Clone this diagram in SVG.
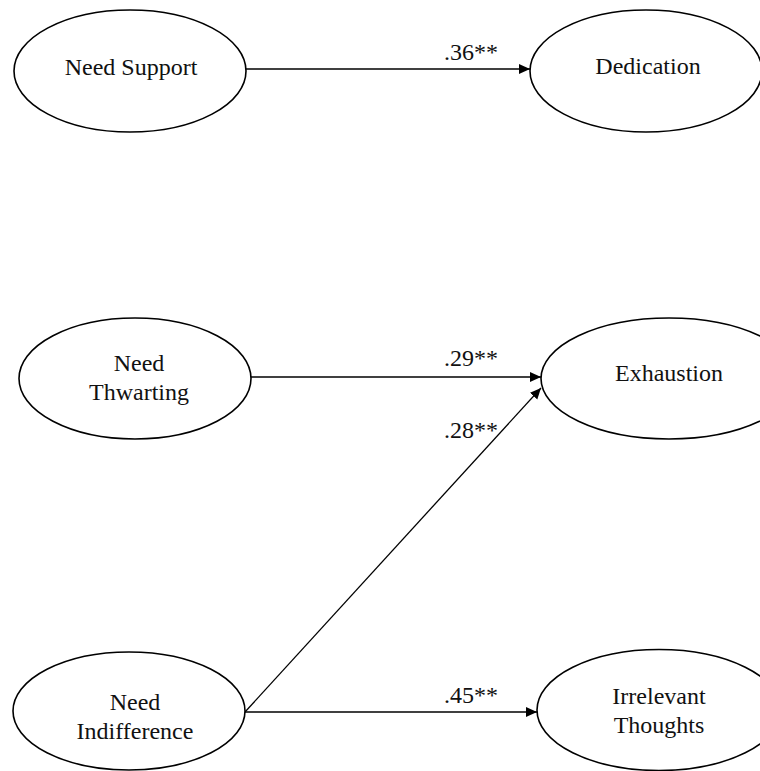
<svg xmlns="http://www.w3.org/2000/svg" width="760" height="771" viewBox="0 0 760 771">
<style>
.node ellipse{fill:#fff;stroke:#000;stroke-width:1.6}
text{font-family:"Liberation Serif","Times New Roman",serif;font-size:24px;fill:#111;text-anchor:middle}
.lbl{text-anchor:start}
.conn line{stroke:#000;stroke-width:1.3}
</style>
<defs>
<marker id="ah" markerUnits="userSpaceOnUse" markerWidth="12" markerHeight="11" refX="11" refY="5" orient="auto">
<path d="M0,0 L11,5 L0,10 z" fill="#000"/>
</marker>
</defs>
<rect width="760" height="771" fill="#fff"/>
<g class="conn">
<line x1="246" y1="69" x2="530" y2="69" marker-end="url(#ah)"/>
<line x1="251" y1="377" x2="541" y2="377" marker-end="url(#ah)"/>
<line x1="245" y1="712" x2="541" y2="388" marker-end="url(#ah)"/>
<line x1="245" y1="712" x2="537" y2="712" marker-end="url(#ah)"/>
<text class="lbl" x="444" y="60">.36**</text>
<text class="lbl" x="444" y="366">.29**</text>
<text class="lbl" x="444" y="438">.28**</text>
<text class="lbl" x="444" y="703">.45**</text>
</g>
<g id="need-support" class="node">
<ellipse cx="130" cy="71" rx="116" ry="61"/>
<text x="131" y="75">Need Support</text>
</g>
<g id="dedication" class="node">
<ellipse cx="646" cy="71" rx="116" ry="61"/>
<text x="648" y="74">Dedication</text>
</g>
<g id="need-thwarting" class="node">
<ellipse cx="135" cy="378.5" rx="116" ry="60.5"/>
<text x="139" y="371">Need</text>
<text x="139" y="400">Thwarting</text>
</g>
<g id="exhaustion" class="node">
<ellipse cx="669" cy="378.5" rx="128" ry="60.5"/>
<text x="669" y="381">Exhaustion</text>
</g>
<g id="need-indifference" class="node">
<ellipse cx="129" cy="711" rx="116" ry="59"/>
<text x="135" y="710">Need</text>
<text x="135" y="739">Indifference</text>
</g>
<g id="irrelevant-thoughts" class="node">
<ellipse cx="659" cy="710" rx="122" ry="60.5"/>
<text x="659" y="704">Irrelevant</text>
<text x="659" y="733">Thoughts</text>
</g>
</svg>
